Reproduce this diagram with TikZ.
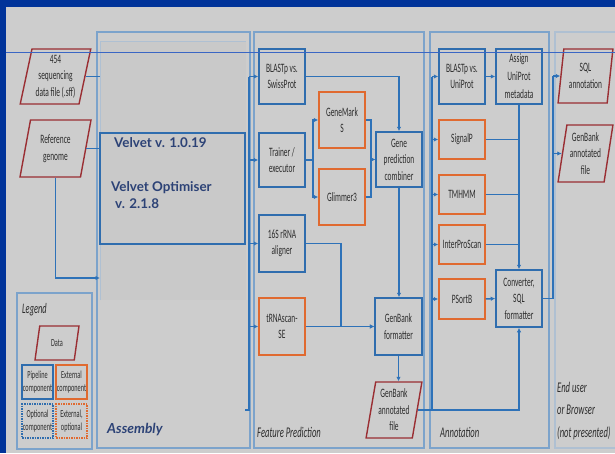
\documentclass[tikz,border=0pt]{standalone}
\usepackage{fontspec}
\setmainfont{Carlito}
\newfontfamily\cf[FakeStretch=0.58]{Carlito}
\newfontfamily\gs{Lato}
\usetikzlibrary{shapes.geometric,arrows.meta}
\definecolor{slideblue}{HTML}{003399}
\definecolor{bgray}{HTML}{CDCDCD}
\definecolor{igray}{HTML}{C9C9C9}
\definecolor{boxblue}{HTML}{2F6DAE}
\definecolor{lineblue}{HTML}{2E72B8}
\definecolor{panelblue}{HTML}{7CA3CB}
\definecolor{fadeblue}{HTML}{AFC0D2}
\definecolor{orangec}{HTML}{E06A30}
\definecolor{redc}{HTML}{9A2E33}
\definecolor{txt}{HTML}{2C2C2C}
\definecolor{velv}{HTML}{2C4276}
\definecolor{thinl}{HTML}{3A66C4}
\tikzset{
  boxtext/.style={align=center, text=txt, inner sep=1pt, font=\cf\fontsize{12.8}{16.5}\selectfont},
  pbox/.style={boxtext, draw=boxblue, line width=1.5pt, minimum width=46pt},
  ebox/.style={boxtext, draw=orangec, line width=1.5pt, minimum width=46pt},
  databox/.style={boxtext, trapezium, trapezium left angle=77, trapezium right angle=103,
     trapezium stretches=true, draw=redc, line width=1.4pt, inner sep=0pt},
  legtext/.style={align=center, text=txt, inner sep=0pt, font=\cf\fontsize{10.8}{13}\selectfont},
  conn/.style={draw=lineblue, line width=1.5pt},
  arr/.style={conn, -{Latex[length=4.5pt,width=4.5pt]}},
  panel/.style={draw=panelblue, line width=1.1pt},
  ital/.style={text=txt, inner sep=0pt, anchor=base west, font=\cf\itshape\fontsize{14.8}{17}\selectfont},
  velvtext/.style={text=velv, inner sep=0pt, anchor=base west, font=\gs\bfseries\fontsize{13.4}{15}\selectfont}
}
\begin{document}
\begin{tikzpicture}[x=1pt,y=-1pt]
\useasboundingbox (0,0) rectangle (615,453);
\fill[slideblue] (0,0) rectangle (615,453);
\fill[bgray] (6,7) rectangle (615,453);

% panels
\fill[igray] (100,41) rectangle (246,300);
\draw[fadeblue, line width=0.6pt] (100,300) -- (100,41) -- (246,41);
\draw[panel] (97,32) rectangle (250,448);
\draw[panel] (254,32) rectangle (424,448);
\draw[panel] (430,32) rectangle (549,448);
\draw[fadeblue, line width=1.1pt] (615,32) -- (555,32) -- (555,448) -- (615,448);
\draw[panel] (17,293) rectangle (92,449);

% data inputs
\node[databox, minimum width=71pt, minimum height=55pt] (d454) at (55.5,76.5) {454\\sequencing\\data file (.sff)};
\node[databox, minimum width=71pt, minimum height=57pt] (dref) at (55.5,148.5) {Reference\\genome};

% assembly
\node[draw=boxblue, line width=1.3pt, minimum width=145pt, minimum height=111pt, inner sep=0pt] (velvet) at (172.5,188.5) {};
\node[velvtext] (v1) at (114,147) {Velvet v. 1.0.19};
\node[velvtext] (v2) at (111,191) {Velvet Optimiser};
\node[velvtext] (v3) at (115,208) {v. 2.1.8};
\node[text=velv, inner sep=0pt, anchor=base west, font=\gs\bfseries\itshape\fontsize{13.8}{15}\selectfont] (asmlabel) at (107,433) {Assembly};

\coordinate (asmL) at (100,0);
\coordinate (asmin3) at (100,278);
\coordinate (asmout) at (245,410);
\coordinate (fbus) at (249,410);

% feature prediction
\node[pbox, minimum height=55pt] (blastsp) at (282,76.5) {BLASTp vs.\\SwissProt};
\node[pbox, minimum height=54pt] (trainer) at (282,160) {Trainer /\\executor};
\node[ebox, minimum height=56pt] (genemark) at (342,120) {GeneMark\\S};
\node[ebox, minimum height=56pt] (glimmer) at (342,197) {Glimmer3};
\node[pbox, minimum height=55pt] (combiner) at (399,159.5) {Gene\\prediction\\combiner};
\node[pbox, minimum height=57pt] (rrna) at (282,243.5) {16S rRNA\\aligner};
\node[ebox, minimum height=57pt] (trnascan) at (282,326.5) {tRNAscan-\\SE};
\node[pbox, minimum width=47pt, minimum height=57pt] (gbfmt) at (398.5,326.5) {GenBank\\formatter};
\node[databox, trapezium left angle=79, trapezium right angle=101, minimum width=56pt, minimum height=56pt] (gbfile) at (394,410) {GenBank\\annotated\\file};
\node[ital] (fplabel) at (257,437) {Feature Prediction};

% annotation
\node[pbox, minimum height=55pt] (blastuni) at (462,76.5) {BLASTp vs.\\UniProt};
\node[pbox, minimum height=55pt, font=\cf\fontsize{12.8}{18}\selectfont] (assign) at (519,76.5) {Assign\\UniProt\\metadata};
\node[ebox, minimum height=39pt] (signalp) at (462,139.5) {SignalP};
\node[ebox, minimum height=39pt] (tmhmm) at (462,194.5) {TMHMM};
\node[ebox, minimum height=39pt] (interpro) at (462,244.5) {InterProScan};
\node[ebox, minimum height=40pt] (psortb) at (462,299) {PSortB};
\node[pbox, minimum height=57pt] (converter) at (519,298.5) {Converter,\\SQL\\formatter};
\node[ital] (anlabel) at (440,437) {Annotation};
\coordinate (abus) at (432,410);

% end user
\node[databox, trapezium left angle=80, trapezium right angle=100, minimum width=55pt, minimum height=54pt] (sqlann) at (585.5,76) {SQL\\annotation};
\node[databox, trapezium left angle=80, trapezium right angle=100, minimum width=55pt, minimum height=57pt] (gbout) at (585.5,153.5) {GenBank\\annotated\\file};
\node[ital] (eu1) at (557,392) {End user};
\node[ital] (eu2) at (557,414) {or Browser};
\node[ital] (eu3) at (557,437) {(not presented)};
\coordinate (ebus) at (553,0);

% legend
\node[ital, font=\cf\itshape\fontsize{14.5}{17}\selectfont] (leglabel) at (22,313) {Legend};
\node[databox, minimum width=44pt, minimum height=34pt, font=\cf\fontsize{10.8}{13}\selectfont] (legdata) at (57,343) {Data};
\node[legtext, draw=boxblue, line width=1.4pt, minimum width=31pt, minimum height=34pt] (legpipe) at (37.5,382) {Pipeline\\component};
\node[legtext, draw=orangec, line width=1.4pt, minimum width=31pt, minimum height=34pt] (legext) at (71.5,382) {External\\component};
\node[legtext, draw=boxblue, line width=1.4pt, dash pattern=on 1.5pt off 1pt, minimum width=31pt, minimum height=34pt] (legopt) at (37.5,421) {Optional\\component};
\node[legtext, draw=orangec, line width=1.4pt, dash pattern=on 1.5pt off 1pt, minimum width=31pt, minimum height=34pt] (legextopt) at (71.5,421) {External,\\optional};

% connectors: inputs to assembly
\draw[conn] (d454.east) -- (d454.east -| asmL);
\draw[conn] (dref.east) -- (dref.east -| asmL);
\draw[arr] (dref.south) |- (asmin3);

% assembly to feature prediction
\draw[conn] (asmout) -- (fbus) -- (fbus |- blastsp.west);
\draw[arr] (fbus |- blastsp.west) -- (blastsp.west);
\draw[arr] (fbus |- trainer.west) -- (trainer.west);
\draw[arr] (fbus |- rrna.west) -- (rrna.west);
\draw[arr] (fbus |- trnascan.west) -- (trnascan.west);

% feature prediction internal
\draw[arr] (blastsp.east) -| (combiner.north);
\draw[arr] (trainer.east) -- ++(7,0) |- (genemark.west);
\draw[arr] (trainer.east) -- ++(7,0) |- (glimmer.west);
\draw[arr] (genemark.east) -- ++(5,0) |- (combiner.west);
\draw[arr] (glimmer.east) -- ++(5,0) |- (combiner.west);
\draw[arr] (combiner.south) -- (combiner.south |- gbfmt.north);
\draw[arr] (rrna.east) -- ++(35,0) |- (gbfmt.west);
\draw[arr] (trnascan.east) -- (gbfmt.west);
\draw[arr] (gbfmt.south) -- (gbfmt.south |- gbfile.north);

% to annotation
\draw[arr] (gbfile.east) -| (converter.south);
\draw[conn] (abus) -- (abus |- blastuni.west);
\draw[arr] (abus |- blastuni.west) -- (blastuni.west);
\draw[arr] (abus |- signalp.west) -- (signalp.west);
\draw[arr] (abus |- tmhmm.west) -- (tmhmm.west);
\draw[arr] (abus |- interpro.west) -- (interpro.west);
\draw[arr] (abus |- psortb.west) -- (psortb.west);

% annotation internal
\draw[arr] (blastuni.east) -- (assign.west);
\draw[arr] (assign.south) -- (converter.north);
\draw[conn] (signalp.east) -- (signalp.east -| assign.south);
\draw[conn] (tmhmm.east) -- (tmhmm.east -| assign.south);
\draw[conn] (interpro.east) -- (interpro.east -| assign.south);
\draw[arr] (psortb.east) -- (converter.west);

% to end user
\draw[conn] (converter.east) -| (ebus |- sqlann.west);
\draw[arr] (ebus |- sqlann.west) -- (sqlann.west);
\draw[arr] (ebus |- gbout.west) -- (gbout.west);

% thin slide line
\draw[thinl, line width=0.7pt] (6,52) -- (615,52);
\end{tikzpicture}
\end{document}
